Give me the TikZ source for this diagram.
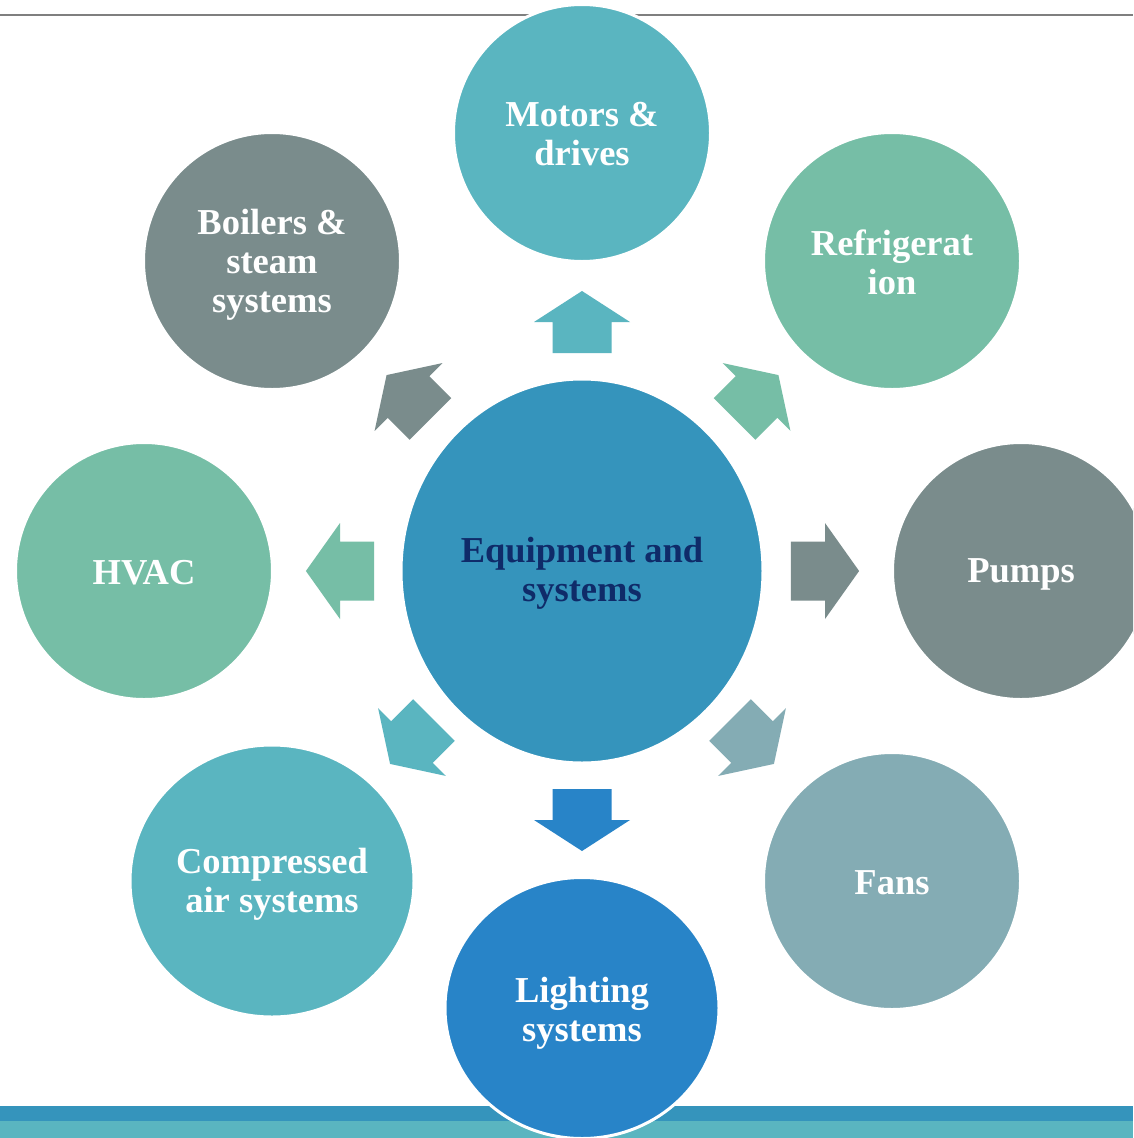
\documentclass[tikz,border=0pt]{standalone}
\usepackage{fontspec}
\setmainfont{Liberation Serif}
\usetikzlibrary{shapes.geometric}
\definecolor{cteal}{HTML}{5AB5C0}
\definecolor{cmint}{HTML}{76BEA6}
\definecolor{cgray}{HTML}{7A8C8C}
\definecolor{cfan}{HTML}{84ACB4}
\definecolor{cblue}{HTML}{2884C8}
\definecolor{ccenter}{HTML}{3594BC}
\definecolor{cnavy}{HTML}{0F2B69}
\definecolor{cline}{HTML}{7F7F7F}
\tikzset{
  bubble/.style={circle, draw=white, line width=3pt, minimum size=257pt, inner sep=0pt},
  oval/.style={bubble, ellipse},
  lbl/.style={inner sep=0pt, align=center, text=white, font=\fontsize{36.5}{39}\selectfont\bfseries},
  blockarrow/.pic={\fill[#1] (-31,-29.5) -- (0,-29.5) -- (0,-48) -- (31,0) -- (0,48) -- (0,29.5) -- (-31,29.5) -- cycle;}
}
\begin{document}
\begin{tikzpicture}[x=1pt,y=-1pt]
\clip (0,0) rectangle (1133,1138);
\fill[white] (0,0) rectangle (1133,1138);
% top rule and bottom bands
\draw[cline, line width=1.5pt] (0,15) -- (1133,15);
\fill[ccenter] (0,1106) rectangle (1133,1121);
\fill[cteal] (0,1121) rectangle (1133,1138);
% center
\node[oval, fill=ccenter, minimum width=362pt, minimum height=384pt] (center) at (582,571) {};
% outer bubbles
\node[bubble, fill=cteal] (motors) at (582,133) {};
\node[bubble, fill=cgray] (boilers) at (272,261) {};
\node[bubble, fill=cmint] (refrig) at (892,261) {};
\node[bubble, fill=cmint] (hvac) at (144,571) {};
\node[bubble, fill=cgray] (pumps) at (1021,571) {};
\node[oval, fill=cteal, minimum width=284pt, minimum height=272pt] (compair) at (272,881) {};
\node[bubble, fill=cfan] (fans) at (892,881) {};
\node[oval, fill=cblue, minimum width=274pt, minimum height=261pt] (lighting) at (582,1008) {};
% labels
\node[lbl, text=cnavy] (center-t) at ([yshift=-2.5pt]center.center) {Equipment and\\systems};
\node[lbl] (motors-t) at ([yshift=-1pt]motors.center) {Motors \&\\drives};
\node[lbl] (boilers-t) at ([yshift=-3.5pt]boilers.center) {Boilers \&\\steam\\systems};
\node[lbl] (refrig-t) at ([yshift=-1pt]refrig.center) {Refrigerat\\ion};
\node[lbl] (hvac-t) at ([yshift=-1.5pt]hvac.center) {HVAC};
\node[lbl] (pumps-t) at ([yshift=-3.5pt]pumps.center) {Pumps};
\node[lbl] (compair-t) at ([yshift=-3.5pt]compair.center) {Compressed\\air systems};
\node[lbl] (fans-t) at ([yshift=-1.5pt]fans.center) {Fans};
\node[lbl] (lighting-t) at ([yshift=-5pt]lighting.center) {Lighting\\systems};
% block arrows
\pic[rotate=90] at (582,322) {blockarrow=cteal};
\pic[rotate=45] at (756.5,397) {blockarrow=cmint};
\pic[rotate=0, xscale=1.1] at (825,571) {blockarrow=cgray};
\pic[rotate=315] at (752,742) {blockarrow=cfan};
\pic[rotate=270] at (582,820) {blockarrow=cblue};
\pic[rotate=225] at (412,742) {blockarrow=cteal};
\pic[rotate=180, xscale=1.1] at (340,571) {blockarrow=cmint};
\pic[rotate=135] at (408.5,397) {blockarrow=cgray};
\end{tikzpicture}
\end{document}
